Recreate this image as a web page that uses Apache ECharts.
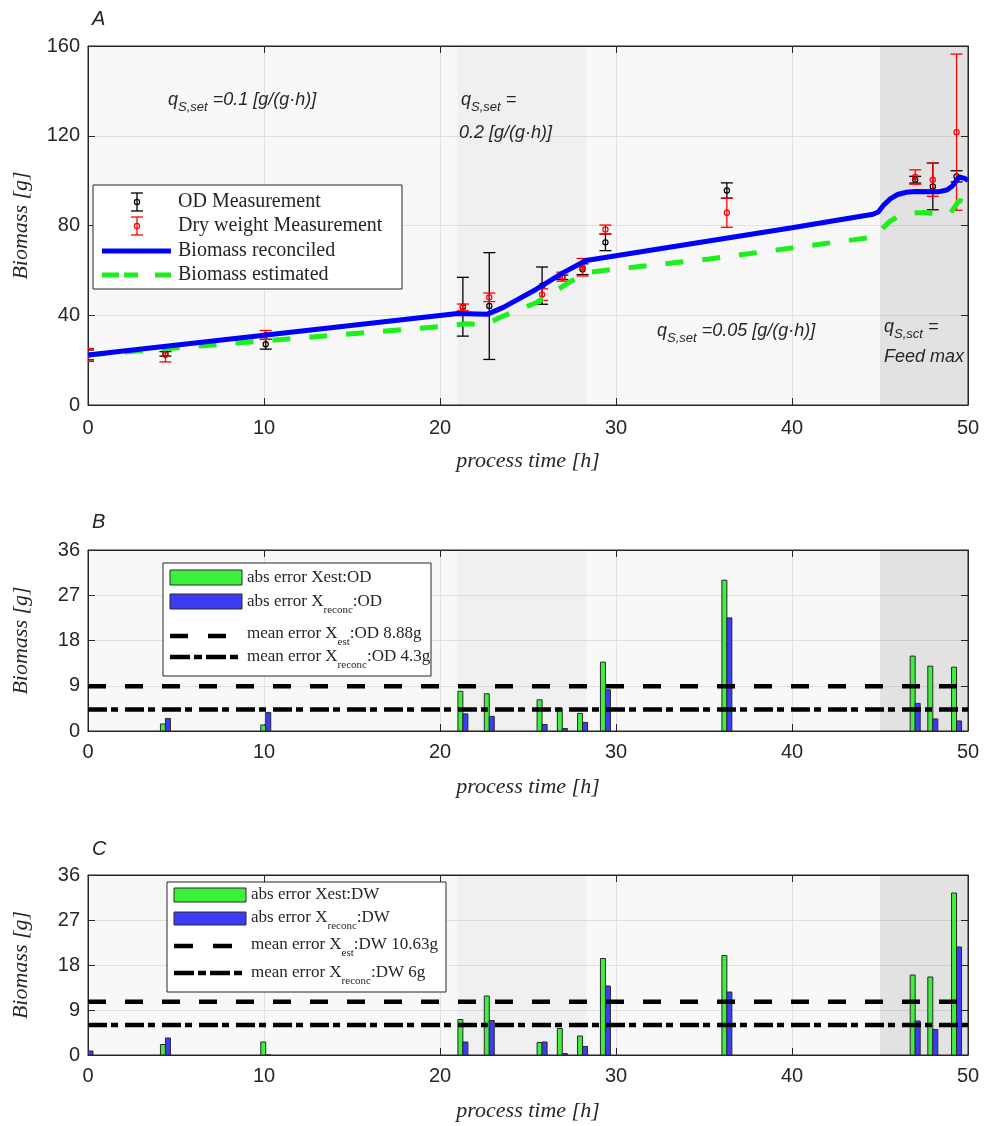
<!DOCTYPE html>
<html>
<head>
<meta charset="utf-8">
<script src="https://cdn.jsdelivr.net/npm/echarts@6.0.0/dist/echarts.min.js"></script>
<style>
  html, body { margin: 0; padding: 0; background: #fff; }
  #chart { width: 985px; height: 1126px; }
</style>
</head>
<body>
<div id="chart"></div>
<script>
var SANS = '"Liberation Sans", Arial, sans-serif';
var SERIF = '"Liberation Serif", "Times New Roman", serif';
var INK = '#262626';

// ---- data ----
var xTicks = [0, 10, 20, 30, 40, 50];
var yTicksA = [0, 40, 80, 120, 160];
var yTicksErr = [0, 9, 18, 27, 36];

// feed phases (shaded background)
var phaseStart = [21, 45];
var phaseEnd = [28.3, 50];

// panel A: measurements (value, +- error)
var odT = [0, 4.4, 10.1, 21.3, 22.8, 25.8, 26.95, 28.1, 29.4, 36.3, 47.0, 48.0, 49.35];
var odV = [22.3, 22.8, 27.1, 43.8, 44.1, 53.2, 56.9, 60.5, 72.5, 95.6, 100.4, 97.4, 101.9];
var odE = [2.2, 1.0, 2.2, 13.1, 23.8, 8.3, 1.0, 2.4, 3.7, 3.4, 1.5, 10.4, 2.5];
var dwT = [0, 4.4, 10.1, 21.3, 22.8, 25.8, 26.95, 28.1, 29.4, 36.3, 47.0, 48.0, 49.35];
var dwV = [22.3, 22.3, 31.2, 43.5, 48.0, 49.2, 57.2, 61.4, 78.2, 85.7, 101.6, 100.4, 121.6];
var dwE = [2.9, 3.1, 2.0, 1.5, 1.9, 2.6, 2.0, 3.9, 2.0, 6.5, 3.2, 7.4, 34.8];

// panel A: biomass curves
var recT = [0, 10, 21, 22.7, 23.6, 25.5, 27.0, 28.3, 40, 44.6, 44.9, 45.2, 45.6, 46.0, 46.5, 47, 48.3, 48.8, 49.1, 49.5, 49.8, 50];
var recV = [22.3, 31.1, 40.8, 40.5, 43.5, 51.7, 59.0, 64.4, 79.0, 85.0, 86.0, 89.0, 92.0, 93.8, 94.8, 95.2, 95.0, 95.8, 97.5, 101.6, 101.0, 100.2];
var estT = [0, 10, 20, 21.5, 22.6, 23.4, 25.5, 27.5, 28.5, 30, 35.3, 44.6, 45.0, 45.5, 46.0, 46.5, 47.5, 48.5, 49.0, 49.5, 50];
var estV = [22.3, 28.6, 34.9, 36.2, 35.8, 39.0, 45.7, 55.4, 59.1, 60.6, 65.1, 74.8, 77.5, 81.5, 84.0, 85.4, 85.8, 84.9, 85.5, 91.2, 89.8];

// panel B: abs error vs OD
var bT = [4.4, 10.1, 21.3, 22.8, 25.8, 26.95, 28.1, 29.4, 36.3, 47.0, 48.0, 49.35];
var bEst = [1.4, 1.2, 7.9, 7.4, 6.2, 4.5, 3.5, 13.7, 30.0, 14.9, 12.9, 12.7];
var bRec = [2.5, 3.7, 3.4, 2.9, 1.3, 0.5, 1.7, 8.2, 22.5, 5.5, 2.4, 2.0];
var bMean = [8.88, 4.3];

// panel C: abs error vs DW
var cT = [0, 4.4, 10.1, 21.3, 22.8, 25.8, 26.95, 28.1, 29.4, 36.3, 47.0, 48.0, 49.35];
var cEst = [0, 2.1, 2.6, 7.1, 11.8, 2.5, 5.3, 3.8, 19.3, 19.9, 16.0, 15.6, 32.4];
var cRec = [0.8, 3.4, 0, 2.6, 6.9, 2.6, 0.3, 1.7, 13.8, 12.6, 6.8, 5.1, 21.6];
var cMean = [10.63, 6];

// ---- styles ----
var GREEN = '#3cf03c';
var BLUE = '#3c3cf5';
var shadeFill = ['rgba(0,0,0,0.032)', 'rgba(0,0,0,0.085)'];
var DASH = [18, 19];
var DASHDOT = [19, 4, 7, 7];

var grids = [
  { left: 88, top: 46, width: 880, height: 359 },
  { left: 88, top: 550, width: 880, height: 181 },
  { left: 88, top: 875, width: 880, height: 180 }
];

function pairs(a, b) { return a.map(function (t, i) { return [t, b[i]]; }); }

function makeX(gi, top) {
  return {
    type: 'value', gridIndex: gi, position: top ? 'top' : 'bottom',
    min: xTicks[0], max: xTicks[xTicks.length - 1], interval: xTicks[1] - xTicks[0],
    axisLine: { show: true, onZero: false, lineStyle: { color: INK, width: 1 } },
    axisTick: { show: true, inside: true, length: 7, lineStyle: { color: INK } },
    axisLabel: { show: !top, margin: gi === 0 ? 13 : 11, fontSize: 20, fontFamily: SANS, color: INK },
    splitLine: { show: !top, lineStyle: { color: '#e0e0e0', width: 1 } },
    name: top ? '' : 'process time [h]',
    nameLocation: 'middle', nameGap: 45,
    nameTextStyle: { fontFamily: SERIF, fontStyle: 'italic', fontSize: 22, color: INK }
  };
}

function makeY(gi, ticks, right) {
  return {
    type: 'value', gridIndex: gi, position: right ? 'right' : 'left',
    min: ticks[0], max: ticks[ticks.length - 1], interval: ticks[1] - ticks[0],
    axisLine: { show: true, onZero: false, lineStyle: { color: INK, width: 1 } },
    axisTick: { show: true, inside: true, length: 7, lineStyle: { color: INK } },
    axisLabel: { show: !right, margin: 8, fontSize: 20, fontFamily: SANS, color: INK },
    splitLine: { show: !right, lineStyle: { color: '#e0e0e0', width: 1 } },
    name: right ? '' : 'Biomass [g]',
    nameLocation: 'middle', nameGap: 56,
    nameTextStyle: { fontFamily: SERIF, fontStyle: 'italic', fontSize: 22, color: INK }
  };
}

function shadeItem(params, api) {
  var cs = params.coordSys;
  var x0 = api.coord([api.value(0), 0])[0];
  var x1 = api.coord([api.value(1), 0])[0];
  return {
    type: 'rect',
    shape: { x: x0, y: cs.y, width: x1 - x0, height: cs.height },
    style: { fill: shadeFill[params.dataIndex] }
  };
}

function errorBarItem(color) {
  return function (params, api) {
    var t = api.value(0), v = api.value(1), e = api.value(2);
    var c = api.coord([t, v]);
    var hi = api.coord([t, v + e])[1];
    var lo = api.coord([t, v - e])[1];
    var hw = 6;
    var st = { stroke: color, lineWidth: 1.3 };
    return {
      type: 'group',
      children: [
        { type: 'line', shape: { x1: c[0], y1: hi, x2: c[0], y2: lo }, style: st },
        { type: 'line', shape: { x1: c[0] - hw, y1: hi, x2: c[0] + hw, y2: hi }, style: st },
        { type: 'line', shape: { x1: c[0] - hw, y1: lo, x2: c[0] + hw, y2: lo }, style: st },
        { type: 'circle', shape: { cx: c[0], cy: c[1], r: 2.6 }, style: { stroke: color, fill: 'transparent', lineWidth: 1.2 } }
      ]
    };
  };
}

function barItem(color, side) {
  return function (params, api) {
    var p = api.coord([api.value(0), api.value(1)]);
    var b = api.coord([api.value(0), 0]);
    var w = 5;
    return {
      type: 'rect',
      shape: { x: side < 0 ? p[0] - w : p[0], y: p[1], width: w, height: b[1] - p[1] },
      style: { fill: color, stroke: '#2a2a2a', lineWidth: 1 }
    };
  };
}

function shadeSeries(gi) {
  return {
    type: 'custom', xAxisIndex: gi, yAxisIndex: gi, silent: true,
    renderItem: shadeItem, data: pairs(phaseStart, phaseEnd), encode: { x: 0 }
  };
}

function barSeries(gi, t, v, color, side) {
  return {
    type: 'custom', xAxisIndex: gi, yAxisIndex: gi, clip: true,
    renderItem: barItem(color, side), data: pairs(t, v), encode: { x: 0, y: 1 }
  };
}

function meanSeries(gi, m, dash) {
  return {
    type: 'line', xAxisIndex: gi, yAxisIndex: gi, showSymbol: false, silent: true,
    data: [[xTicks[0], m], [xTicks[xTicks.length - 1], m]],
    lineStyle: { color: '#000', width: 4.5, type: dash, cap: 'butt' }
  };
}

var series = [
  shadeSeries(0),
  {
    type: 'custom', xAxisIndex: 0, yAxisIndex: 0, clip: true,
    renderItem: errorBarItem('#000'),
    data: odT.map(function (t, i) { return [t, odV[i], odE[i]]; }), encode: { x: 0, y: 1 }
  },
  {
    type: 'custom', xAxisIndex: 0, yAxisIndex: 0, clip: true,
    renderItem: errorBarItem('#ff0000'),
    data: dwT.map(function (t, i) { return [t, dwV[i], dwE[i]]; }), encode: { x: 0, y: 1 }
  },
  {
    type: 'line', xAxisIndex: 0, yAxisIndex: 0, showSymbol: false, data: pairs(estT, estV),
    lineStyle: { color: '#1cf01c', width: 5, type: DASH, cap: 'butt' }
  },
  {
    type: 'line', xAxisIndex: 0, yAxisIndex: 0, showSymbol: false, data: pairs(recT, recV),
    lineStyle: { color: '#0000ff', width: 5 }
  },
  shadeSeries(1),
  barSeries(1, bT, bEst, GREEN, -1),
  barSeries(1, bT, bRec, BLUE, 1),
  meanSeries(1, bMean[0], DASH),
  meanSeries(1, bMean[1], DASHDOT),
  shadeSeries(2),
  barSeries(2, cT, cEst, GREEN, -1),
  barSeries(2, cT, cRec, BLUE, 1),
  meanSeries(2, cMean[0], DASH),
  meanSeries(2, cMean[1], DASHDOT)
];

// ---- annotations and legends (drawn as graphics) ----
function txt(x, y, text, size, family, italic) {
  return {
    type: 'text', x: x, y: y, z: 100,
    style: { text: text, fontSize: size, fontFamily: family, fontStyle: italic ? 'italic' : 'normal', fill: INK, verticalAlign: 'middle' }
  };
}

function richTxt(x, y, text, size, subSize, family, italic) {
  var fs = italic ? 'italic' : 'normal';
  return {
    type: 'text', x: x, y: y, z: 100,
    style: {
      text: text, verticalAlign: 'middle', fill: INK,
      fontSize: size, fontFamily: family, fontStyle: fs,
      rich: {
        n: { fontSize: size, fontFamily: family, fontStyle: fs, fill: INK, lineHeight: 28, verticalAlign: 'middle' },
        s: { fontSize: subSize, fontFamily: family, fontStyle: fs, fill: INK, lineHeight: 10, verticalAlign: 'bottom' }
      }
    }
  };
}

function errIcon(cx, cy, color) {
  var st = { stroke: color, lineWidth: 1.3 };
  return [
    { type: 'line', z: 101, shape: { x1: cx, y1: cy - 9, x2: cx, y2: cy + 9 }, style: st },
    { type: 'line', z: 101, shape: { x1: cx - 6, y1: cy - 9, x2: cx + 6, y2: cy - 9 }, style: st },
    { type: 'line', z: 101, shape: { x1: cx - 6, y1: cy + 9, x2: cx + 6, y2: cy + 9 }, style: st },
    { type: 'circle', z: 101, shape: { cx: cx, cy: cy, r: 2.6 }, style: { stroke: color, fill: 'transparent', lineWidth: 1.2 } }
  ];
}

function box(x, y, w, h) {
  return { type: 'rect', z: 99, shape: { x: x, y: y, width: w, height: h }, style: { fill: '#fff', stroke: INK, lineWidth: 1 } };
}

function hline(x1, x2, y, color, width, dash) {
  return { type: 'line', z: 101, shape: { x1: x1, y1: y, x2: x2, y2: y }, style: { stroke: color, lineWidth: width, lineDash: dash || null, lineCap: 'butt' } };
}

function swatch(x, y, w, h, color) {
  return { type: 'rect', z: 101, shape: { x: x, y: y, width: w, height: h }, style: { fill: color, stroke: '#2a2a2a', lineWidth: 1 } };
}

var graphics = [
  txt(92, 19, 'A', 20, SANS, true),
  txt(92, 522, 'B', 20, SANS, true),
  txt(92, 849, 'C', 20, SANS, true),

  richTxt(168, 100, '{n|q}{s|S,set}{n| =0.1 [g/(g·h)]}', 18, 13, SANS, true),
  richTxt(461, 100, '{n|q}{s|S,set}{n| =}', 18, 13, SANS, true),
  txt(459, 133, '0.2 [g/(g·h)]', 18, SANS, true),
  richTxt(657, 331, '{n|q}{s|S,set}{n| =0.05 [g/(g·h)]}', 18, 13, SANS, true),
  richTxt(884, 327, '{n|q}{s|S,sct}{n| =}', 18, 13, SANS, true),
  txt(884, 357, 'Feed max', 18, SANS, true),

  // legend A
  box(93, 185, 309, 104),
  hline(102, 171, 251, '#0000ff', 5),
  hline(102, 171, 275, '#1cf01c', 5, [17, 5, 14, 17, 17]),
  txt(178, 202, 'OD Measurement', 20, SERIF, false),
  txt(178, 226, 'Dry weight Measurement', 20, SERIF, false),
  txt(178, 251, 'Biomass reconciled', 20, SERIF, false),
  txt(178, 275, 'Biomass estimated', 20, SERIF, false),

  // legend B
  box(163, 563, 268, 113),
  swatch(170, 570, 72, 15, GREEN),
  swatch(170, 594, 72, 15, BLUE),
  hline(170, 226, 636, '#000', 4.5, [18, 20]),
  hline(170, 242, 657, '#000', 4.5, [20, 4, 8, 4]),
  txt(247, 578, 'abs error Xest:OD', 17, SERIF, false),
  richTxt(247, 602, '{n|abs error X}{s|reconc}{n|:OD}', 17, 11, SERIF, false),
  richTxt(247, 634, '{n|mean error X}{s|est}{n|:OD 8.88g}', 17, 11, SERIF, false),
  richTxt(247, 657, '{n|mean error X}{s|reconc}{n|:OD 4.3g}', 17, 11, SERIF, false),

  // legend C
  box(167, 882, 279, 110),
  swatch(174, 888, 72, 14, GREEN),
  swatch(174, 912, 72, 13, BLUE),
  hline(174, 232, 946, '#000', 4.5, [19, 20]),
  hline(174, 246, 973, '#000', 4.5, [20, 4, 8, 4]),
  txt(251, 895, 'abs error Xest:DW', 17, SERIF, false),
  richTxt(251, 918, '{n|abs error X}{s|reconc}{n|:DW}', 17, 11, SERIF, false),
  richTxt(251, 945, '{n|mean error X}{s|est}{n|:DW 10.63g}', 17, 11, SERIF, false),
  richTxt(251, 973, '{n|mean error X}{s|reconc}{n|:DW 6g}', 17, 11, SERIF, false)
].concat(errIcon(137, 202, '#000'), errIcon(137, 226, '#ff0000'));

var chart = echarts.init(document.getElementById('chart'), null, { renderer: 'canvas', width: 985, height: 1126 });

chart.setOption({
  animation: false,
  backgroundColor: '#fff',
  grid: grids.map(function (g) {
    return Object.assign({ show: true, backgroundColor: '#f8f8f8', borderColor: INK, borderWidth: 1, containLabel: false }, g);
  }),
  xAxis: [makeX(0, false), makeX(1, false), makeX(2, false), makeX(0, true), makeX(1, true), makeX(2, true)],
  yAxis: [makeY(0, yTicksA, false), makeY(1, yTicksErr, false), makeY(2, yTicksErr, false),
          makeY(0, yTicksA, true), makeY(1, yTicksErr, true), makeY(2, yTicksErr, true)],
  series: series,
  graphic: graphics
});
</script>
</body>
</html>
